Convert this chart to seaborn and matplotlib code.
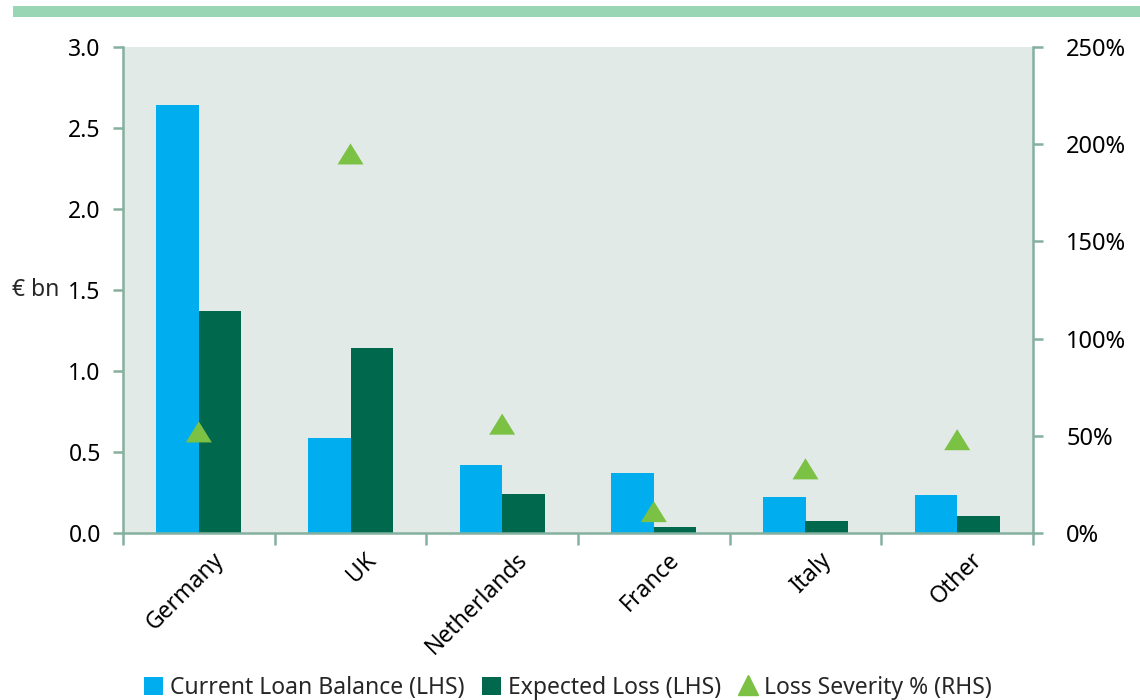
import numpy as np
import pandas as pd
import matplotlib
matplotlib.use("Agg")
import matplotlib.pyplot as plt
import seaborn as sns
from matplotlib.patches import Patch, Rectangle
from matplotlib.lines import Line2D
from matplotlib.ticker import FixedLocator, FuncFormatter
from matplotlib.path import Path
from matplotlib.markers import MarkerStyle
from matplotlib.transforms import ScaledTranslation

# ---------------- data ----------------
countries = ["Germany", "UK", "Netherlands", "France", "Italy", "Other"]
loan_balance = [2.64, 0.585, 0.42, 0.37, 0.22, 0.235]
expected_loss = [1.37, 1.14, 0.24, 0.04, 0.075, 0.105]
loss_severity = [52, 195, 56, 11, 33, 48]
series_names = ["Current Loan Balance (LHS)", "Expected Loss (LHS)"]
severity_name = "Loss Severity % (RHS)"
left_ticks = [0.0, 0.5, 1.0, 1.5, 2.0, 2.5, 3.0]
right_ticks = [0, 50, 100, 150, 200, 250]
left_label = "€ bn"

# ---------------- style ----------------
BLUE = "#00aeef"
DGREEN = "#00684d"
LGREEN = "#7bc143"
BG = "#e1eae7"
SPINE = "#84b09f"
BAND = "#98d6b4"
FS = 16.5

sns.set_theme(style="white")
plt.rcParams['font.family'] = ['Noto Sans', 'DejaVu Sans']

df = pd.DataFrame({
    "country": countries * 2,
    "series": [series_names[0]] * len(countries) + [series_names[1]] * len(countries),
    "value": loan_balance + expected_loss,
})

W, H = 1140, 700
fig = plt.figure(figsize=(W / 100, H / 100), dpi=100)
ax = fig.add_axes([123 / W, 1 - 533 / H, 910 / W, 486 / H])
ax.set_facecolor(BG)

sns.barplot(data=df, x="country", y="value", hue="series", order=countries,
            hue_order=series_names, palette={series_names[0]: BLUE, series_names[1]: DGREEN},
            width=0.56, saturation=1, errorbar=None, legend=False, ax=ax,
            edgecolor="none", linewidth=0)

ax2 = ax.twinx()
tri_path = Path([(0, 0.81), (-1, -0.81), (1, -0.81), (0, 0.81)],
                [Path.MOVETO, Path.LINETO, Path.LINETO, Path.CLOSEPOLY])
tri = MarkerStyle(tri_path)
sns.scatterplot(x=countries, y=loss_severity, ax=ax2, marker=tri, s=350,
                color=LGREEN, edgecolor="none", linewidth=0, legend=False, zorder=3)

n = len(countries)
ax.set_xlim(-0.5, n - 0.5)
ax.set_ylim(0, 3.0)
ax2.set_ylim(0, 250)

# spines
for s in ["top", "right"]:
    ax.spines[s].set_visible(False)
for s in ["left", "bottom"]:
    ax.spines[s].set_color(SPINE)
    ax.spines[s].set_linewidth(1.8)
for s in ["left", "top", "bottom"]:
    ax2.spines[s].set_visible(False)
ax2.spines["right"].set_color(SPINE)
ax2.spines["right"].set_linewidth(1.8)

# y ticks
ax.yaxis.set_major_locator(FixedLocator(left_ticks))
ax.yaxis.set_major_formatter(FuncFormatter(lambda v, p: f"{v:.1f}"))
ax.tick_params(axis="y", which="major", left=True, length=7, width=1.8, color=SPINE,
               pad=9, labelsize=FS, labelcolor="black")
ax2.yaxis.set_major_locator(FixedLocator(right_ticks))
ax2.yaxis.set_major_formatter(FuncFormatter(lambda v, p: f"{v:.0f}%"))
ax2.tick_params(axis="y", which="major", right=True, length=7, width=1.8, color=SPINE,
                pad=17, labelsize=17, labelcolor="black")

# x ticks: labels at centers, tick marks at boundaries
ax.set_xticks(np.arange(-0.5, n, 1.0), minor=True)
ax.tick_params(axis="x", which="minor", bottom=True, length=8.5, width=1.8, color=SPINE)
ax.tick_params(axis="x", which="major", bottom=True, length=0, pad=17, labelsize=FS,
               labelcolor="black")
offset = ScaledTranslation(0.22, 0, fig.dpi_scale_trans)
for lab in ax.get_xticklabels():
    lab.set_rotation(45)
    lab.set_ha("right")
    lab.set_va("center")
    lab.set_rotation_mode("anchor")
    lab.set_transform(lab.get_transform() + offset)

ax.set_xlabel("")
ax.set_ylabel(left_label, rotation=0, fontsize=FS, ha="right", va="center")
ax.yaxis.set_label_coords(-0.0703, 0.5)
ax2.set_ylabel("")
ax.grid(False)
ax2.grid(False)

# legend
handles = [
    Patch(facecolor=BLUE, edgecolor="none"),
    Patch(facecolor=DGREEN, edgecolor="none"),
    Line2D([], [], marker="^", markersize=15, color=LGREEN, linestyle="none"),
]
labels = series_names + [severity_name]
fig.legend(handles, labels, loc="center", bbox_to_anchor=(0.4985, 12 / H), ncol=3,
           frameon=False, fontsize=16.5, handlelength=0.8, handleheight=0.85,
           handletextpad=0.3, columnspacing=0.8, borderaxespad=0, borderpad=0)

# top band
fig.patches.append(Rectangle((13 / W, 1 - 17 / H), 1 - 13 / W, 11 / H,
                             transform=fig.transFigure, facecolor=BAND, edgecolor="none"))

fig.savefig("out.png", dpi=100)
